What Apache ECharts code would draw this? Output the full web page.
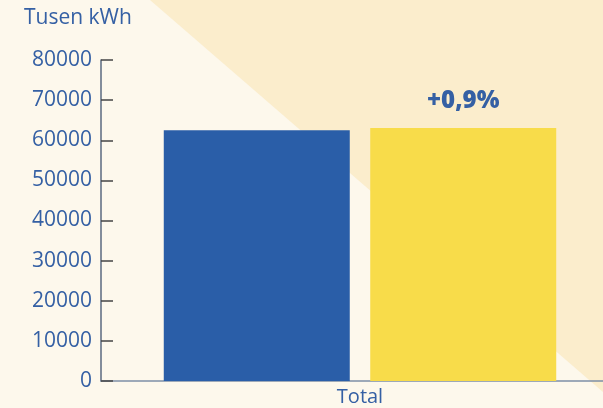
<!DOCTYPE html>
<html>
<head>
<meta charset="utf-8">
<script src="https://cdn.jsdelivr.net/npm/echarts@6/dist/echarts.min.js"></script>
<style>
  html, body { margin: 0; padding: 0; background: #fdf8ec; }
  #chart { width: 603px; height: 408px; }
</style>
</head>
<body>
<div id="chart"></div>
<script>
// data
var categories = ['Total']
var unitLabel = 'Tusen kWh'
var previousYear = [62500]
var currentYear = [63060]
var changeText = '+0,9%'
var yTicks = [0, 10000, 20000, 30000, 40000, 50000, 60000, 70000, 80000]

var chart = echarts.init(document.getElementById('chart'), null, { renderer: 'canvas' })

var blue = '#2a5ea8'
var labelBlue = '#3560a4'

var option = {
  backgroundColor: '#fdf8ec',
  animation: false,
  graphic: [{
    // beige diagonal band in the background
    type: 'polygon',
    z: -10,
    silent: true,
    shape: { points: [[150, 0], [603, 0], [603, 392]] },
    style: { fill: '#fbedcc' }
  }, {
    type: 'text',
    left: 24,
    top: 8,
    style: {
      text: unitLabel,
      fill: labelBlue,
      font: '21px "Open Sans"'
    }
  }],
  grid: {
    left: 101,
    right: -16,
    top: 60,
    bottom: 27,
    outerBoundsMode: 'none',
    containLabel: false
  },
  xAxis: {
    type: 'category',
    data: categories,
    axisLine: { lineStyle: { color: '#7d8ea6', width: 1.5 } },
    axisTick: { show: false },
    axisLabel: {
      color: labelBlue,
      fontFamily: 'Open Sans',
      fontSize: 20,
      margin: 6
    }
  },
  yAxis: {
    type: 'value',
    min: yTicks[0],
    max: yTicks[yTicks.length - 1],
    interval: 10000,
    splitLine: { show: false },
    axisLine: { show: true, lineStyle: { color: '#5a6a80', width: 1.5 } },
    axisTick: { show: true, inside: true, length: 12, lineStyle: { color: '#444', width: 1.5 } },
    axisLabel: {
      color: labelBlue,
      fontFamily: 'Open Sans',
      fontSize: 21,
      margin: 9,
      formatter: function (v) { return String(v) }
    }
  },
  series: [{
    type: 'bar',
    data: previousYear,
    barWidth: 186,
    barGap: '11%',
    itemStyle: { color: blue }
  }, {
    type: 'bar',
    data: currentYear,
    barWidth: 186,
    itemStyle: { color: '#f8dc4a' },
    label: {
      show: true,
      position: 'top',
      distance: 15,
      formatter: changeText,
      color: labelBlue,
      fontFamily: 'Open Sans',
      fontWeight: 800,
      fontSize: 24
    }
  }]
}

chart.setOption(option)
</script>
</body>
</html>
